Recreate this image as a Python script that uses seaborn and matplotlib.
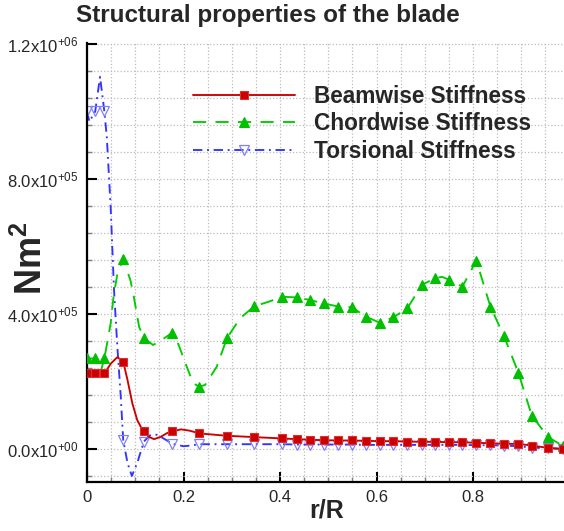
import numpy as np
import pandas as pd
import matplotlib
matplotlib.use("Agg")
import matplotlib.pyplot as plt
import seaborn as sns
from matplotlib.ticker import FixedLocator, FixedFormatter, MultipleLocator

sns.set_style("ticks")
plt.rcParams["font.family"] = ["Liberation Sans", "DejaVu Sans"]
plt.rcParams["mathtext.fontset"] = "custom"
plt.rcParams["mathtext.rm"] = "Liberation Sans"
plt.rcParams["mathtext.bf"] = "Liberation Sans:bold"

# Blade stations (r/R) where the section properties are tabulated
stations = [0.000, 0.017, 0.036, 0.075, 0.118, 0.177, 0.233, 0.290, 0.347,
            0.405, 0.435, 0.463, 0.491, 0.521, 0.549, 0.578, 0.607, 0.635,
            0.664, 0.694, 0.721, 0.751, 0.778, 0.807, 0.836, 0.864, 0.894,
            0.922, 0.956, 0.987]

# Stiffness at the stations, in units of 1e5 N m^2
beamwise = [2.24, 2.24, 2.24, 2.59, 0.54, 0.52, 0.46, 0.39, 0.35,
            0.31, 0.29, 0.27, 0.26, 0.25, 0.25, 0.24, 0.23, 0.23,
            0.22, 0.21, 0.21, 0.20, 0.20, 0.18, 0.17, 0.15, 0.15,
            0.10, 0.03, 0.00]
chordwise = [2.68, 2.68, 2.68, 5.62, 3.28, 3.45, 1.84, 3.28, 4.23,
             4.51, 4.49, 4.41, 4.31, 4.22, 4.20, 3.92, 3.74, 3.90,
             4.17, 4.86, 5.06, 5.01, 4.81, 5.58, 4.22, 3.35, 2.26,
             0.98, 0.35, 0.08]
torsional = [10.0, 10.0, 10.0, 0.27, 0.22, 0.15, 0.14, 0.14, 0.14,
             0.14, 0.13, 0.13, 0.13, 0.13, 0.13, 0.12, 0.12, 0.12,
             0.12, 0.12, 0.12, 0.12, 0.12, 0.11, 0.11, 0.10, 0.08,
             0.04, 0.02, 0.00]

# Curve-fit points between stations (same units)
beam_fit_r = [0.027, 0.050, 0.063, 0.084, 0.094, 0.104, 0.112, 0.128, 0.139,
              0.153, 0.166, 0.195, 0.213]
beam_fit_v = [2.17, 2.54, 2.72, 2.04, 1.35, 0.86, 0.64, 0.36, 0.29,
              0.36, 0.47, 0.58, 0.54]
chord_fit_r = [0.027, 0.049, 0.055, 0.063, 0.090, 0.097, 0.108, 0.137, 0.157,
               0.190, 0.205, 0.220, 0.245, 0.269, 0.317, 0.376, 0.736]
chord_fit_v = [2.22, 3.72, 4.51, 5.20, 5.00, 4.51, 3.62, 3.08, 3.25,
               3.08, 2.50, 1.95, 1.90, 2.44, 3.87, 4.36, 5.10]
tors_fit_r = [0.005, 0.027, 0.041, 0.049, 0.056, 0.063, 0.070, 0.084, 0.093,
              0.104, 0.130, 0.145, 0.160, 0.200, 0.215]
tors_fit_v = [9.70, 11.03, 9.25, 7.18, 4.71, 3.00, 1.55, -0.42, -0.80,
              -0.42, 0.40, 0.42, 0.30, 0.08, 0.10]

scale = 1e5
ytick_values = [0.0, 4e5, 8e5, 1.2e6]
ytick_labels = [r"$\mathregular{0.0x10^{+00}}$", r"$\mathregular{4.0x10^{+05}}$",
                r"$\mathregular{8.0x10^{+05}}$", r"$\mathregular{1.2x10^{+06}}$"]
xtick_values = [0.0, 0.2, 0.4, 0.6, 0.8]
xtick_labels = ["0", "0.2", "0.4", "0.6", "0.8"]


def build(values, fit_r, fit_v):
    df = pd.DataFrame({
        "r": list(stations) + list(fit_r),
        "k": [v * scale for v in values] + [v * scale for v in fit_v],
        "station": [True] * len(stations) + [False] * len(fit_r),
    })
    df = df.sort_values("r").reset_index(drop=True)
    return df, list(np.flatnonzero(df["station"].to_numpy()))


fig = plt.figure(figsize=(5.64, 5.31), dpi=100)
ax = fig.add_axes([87 / 564, 49 / 531, 482.5 / 564, 439 / 531])

series = [
    ("Beamwise Stiffness", beamwise, beam_fit_r, beam_fit_v,
     dict(color="#cc0000", marker="s", markersize=6.2, markerfacecolor="#cc0000",
          markeredgecolor="#dd3030", markeredgewidth=0.8, zorder=4), None),
    ("Chordwise Stiffness", chordwise, chord_fit_r, chord_fit_v,
     dict(color="#00cc00", marker="^", markersize=7, markerfacecolor="#00c000",
          markeredgecolor="#00c000", markeredgewidth=0.8, zorder=3), (7, 5)),
    ("Torsional Stiffness", torsional, tors_fit_r, tors_fit_v,
     dict(color="#3333ff", marker="v", markersize=7, markerfacecolor="none",
          markeredgecolor="#8080ff", markeredgewidth=0.9, zorder=2),
     (5, 2.5, 1, 2.5)),
]

for label, vals, fr, fv, style, dash in series:
    df, idx = build(vals, fr, fv)
    sns.lineplot(data=df, x="r", y="k", ax=ax, estimator=None, sort=False,
                 label=label, linewidth=1.35, markevery=idx, **style)
    line = ax.lines[-1]
    if dash is not None:
        line.set_dashes(dash)

ax.set_xlim(0, 1.0)
ax.set_ylim(-0.98e5, 1.203e6)

ax.xaxis.set_major_locator(FixedLocator(xtick_values))
ax.xaxis.set_major_formatter(FixedFormatter(xtick_labels))
ax.xaxis.set_minor_locator(MultipleLocator(0.05))
ax.yaxis.set_major_locator(FixedLocator(ytick_values))
ax.yaxis.set_major_formatter(FixedFormatter(ytick_labels))
ax.yaxis.set_minor_locator(MultipleLocator(0.8e5))

ax.tick_params(which="major", direction="in", length=7, width=1.5,
               color="black", labelsize=12, pad=6)
ax.tick_params(which="minor", direction="in", length=3.5, width=1.0,
               color="#808080")
ax.grid(which="both", color="#bcbcbc", linestyle=":", linewidth=0.9)
ax.set_axisbelow(True)

for side in ("top", "right"):
    ax.spines[side].set_visible(False)
for side in ("left", "bottom"):
    ax.spines[side].set_linewidth(1.6)
    ax.spines[side].set_color("black")

ax.set_xlabel("r/R", fontsize=18, fontweight="bold")
ax.xaxis.set_label_coords(0.497, -0.038)
ax.set_ylabel(r"$\mathbf{Nm^2}$", fontsize=26)
ax.yaxis.set_label_coords(-0.076, 0.51)

fig.text(268 / 564, 1 - 22 / 531, "Structural properties of the blade",
         ha="center", va="baseline", fontsize=17.5, fontweight="bold")

leg = ax.legend(loc="upper left", bbox_to_anchor=(193 / 564, 1 - 85 / 531),
                bbox_transform=fig.transFigure, frameon=False,
                prop={"weight": "bold", "size": 16.3}, handlelength=4.5,
                handletextpad=0.85, labelspacing=0.19, borderpad=0,
                borderaxespad=0, numpoints=1)

fig.savefig("out.png", dpi=100)
